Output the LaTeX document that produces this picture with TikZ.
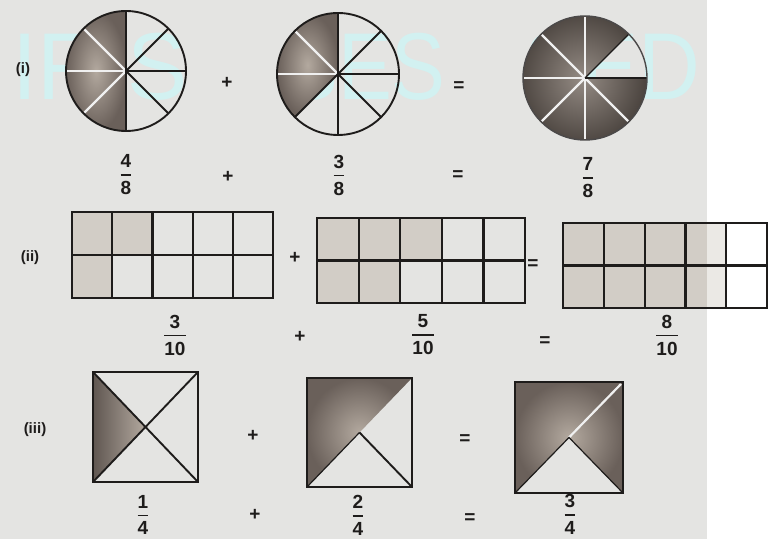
\documentclass[tikz,border=0pt]{standalone}
\usepackage{fontspec}
\usepackage{amsmath}
\setmainfont{Liberation Sans}
\definecolor{bgg}{HTML}{E4E4E2}
\definecolor{wmc}{HTML}{D2F1F1}
\definecolor{shin}{HTML}{B3A99F}
\definecolor{shout}{HTML}{6A605A}
\definecolor{dkin}{HTML}{948B84}
\definecolor{dkout}{HTML}{4A433E}
\definecolor{cellc}{HTML}{D2CDC6}
\definecolor{ink}{HTML}{1E1C1B}
\newcommand{\fr}[2]{$\genfrac{}{}{1.8pt}{0}{\textbf{#1}}{\textbf{#2}}$}
\begin{document}
\begin{tikzpicture}[x=1pt,y=1pt,
  wm/.style={font=\fontsize{95}{95}\selectfont, text=wmc, inner sep=0, anchor=base},
  fracnode/.style={font=\bfseries\fontsize{19}{19}\selectfont, inner sep=0, text=ink},
  opnode/.style={font=\bfseries\fontsize{19}{19}\selectfont, inner sep=0, text=ink},
  lblnode/.style={font=\bfseries\fontsize{15}{15}\selectfont, inner sep=0, text=ink},
  edgeline/.style={line width=1.9pt, draw=ink},
  wline/.style={line width=2.2pt, draw=white!88!gray},
  softshade/.style={inner color=shin, outer color=shout},
  darkshade/.style={inner color=dkin, outer color=dkout},
  cellfill/.style={fill=cellc},
  gridline/.style={line width=2.2pt, draw=ink, line join=miter}]
\useasboundingbox (0,0) rectangle (772,539);
\fill[bgg] (0,0) rectangle (707,539);
\fill[white] (707,0) rectangle (772,539);
% watermark
\node[wm] (wm1) at (100,439) {\scalebox{0.95}[1]{IRIS}};
\node[wm] (wm2) at (365,439) {\scalebox{0.85}[1]{SES}};
\node[wm] (wm3) at (612,439) {\scalebox{0.9}[1]{SED}};
% ---------- row (i)
\node[lblnode] (l1) at (23,469) {(i)};
\coordinate (c1) at (126,468);
\shade[softshade] (c1) -- ++(90:60) arc[start angle=90,end angle=270,radius=60] -- cycle;
\draw[wline] (c1) -- ++(135:59);
\draw[wline] (c1) -- ++(180:59);
\draw[wline] (c1) -- ++(225:59);
\foreach \a in {90,45,0,-45,-90} \draw[edgeline] (c1) -- ++(\a:60);
\draw[edgeline] (c1) circle[radius=60];
\coordinate (c2) at (338,465);
\shade[softshade] (c2) -- ++(90:61) arc[start angle=90,end angle=225,radius=61] -- cycle;
\draw[wline] (c2) -- ++(135:60);
\draw[wline] (c2) -- ++(180:60);
\foreach \a in {90,45,0,-45,-90,225} \draw[edgeline] (c2) -- ++(\a:61);
\draw[edgeline] (c2) circle[radius=61];
\coordinate (c3) at (585,461);
\shade[darkshade] (c3) -- ++(45:62) arc[start angle=45,end angle=360,radius=62] -- cycle;
\foreach \a in {90,135,180,225,270,315} \draw[wline] (c3) -- ++(\a:61);
\draw[line width=1.2pt, draw=ink] (c3) -- ++(0:62);
\draw[line width=1.2pt, draw=ink] (c3) -- ++(45:62);
\draw[line width=1.4pt, draw=ink!80] (c3) circle[radius=62];
\node[opnode] (p1) at (227,456) {+};
\node[opnode] (e1) at (459,452) {=};
\node[fracnode] (f11) at (126,364) {\fr{4}{8}};
\node[opnode] (p1b) at (228,362) {+};
\node[fracnode] (f12) at (339,364) {\fr{3}{8}};
\node[opnode] (e1b) at (458,363) {=};
\node[fracnode] (f13) at (588,361) {\fr{7}{8}};
% ---------- row (ii)
\node[lblnode] (l2) at (30,281) {(ii)};
\begin{scope}[shift={(72,241)}]
  \fill[cellfill] (0,43) rectangle (80.4,86);
  \fill[cellfill] (0,0) rectangle (40.2,43);
  \draw[gridline] (0,0) rectangle (201,86);
  \draw[gridline] (0,43) -- (201,43);
  \foreach \i in {1,2,3,4} \draw[gridline] (\i*40.2,0) -- (\i*40.2,86);
\end{scope}
\begin{scope}[shift={(317,236)}]
  \fill[cellfill] (0,42.5) rectangle (124.8,85);
  \fill[cellfill] (0,0) rectangle (83.2,42.5);
  \draw[gridline] (0,0) rectangle (208,85);
  \draw[gridline] (0,42.5) -- (208,42.5);
  \foreach \i in {1,2,3,4} \draw[gridline] (\i*41.6,0) -- (\i*41.6,85);
\end{scope}
\begin{scope}[shift={(563,231)}]
  \fill[cellfill] (0,0) rectangle (144,85);
  \fill[cellc!45!white] (144,0) rectangle (163.2,85);
  \draw[gridline] (0,0) rectangle (204,85);
  \draw[gridline] (0,42.5) -- (204,42.5);
  \foreach \i in {1,2,3,4} \draw[gridline] (\i*40.8,0) -- (\i*40.8,85);
\end{scope}
\node[opnode] (p2) at (295,281) {+};
\node[opnode] (e2) at (533,274) {=};
\node[fracnode] (f21) at (175,204) {\fr{3}{10}};
\node[opnode] (p2b) at (300,202) {+};
\node[fracnode] (f22) at (423,204) {\fr{5}{10}};
\node[opnode] (e2b) at (545,197) {=};
\node[fracnode] (f23) at (667,204) {\fr{8}{10}};
% ---------- row (iii)
\node[lblnode] (l3) at (35,109) {(iii)};
% square 1
\shade[left color=shout!90!black, right color=shin] (93,167) -- (145.5,112) -- (93,57) -- cycle;
\draw[edgeline] (93,57) rectangle (198,167);
\draw[edgeline] (93,167) -- (198,57);
\draw[edgeline] (93,57) -- (198,167);
% square 2
\shade[softshade] (307,161) -- (412,161) -- (359.5,106.5) -- (307,52) -- cycle;
\draw[edgeline] (307,52) rectangle (412,161);
\draw[edgeline] (359.5,106.5) -- (412,52);
\draw[line width=1.2pt, draw=ink] (307,52) -- (359.5,106.5);
% square 3
\shade[softshade] (515,157) -- (623,157) -- (623,46) -- (569,101.5) -- (515,46) -- cycle;
\draw[wline] (569,101.5) -- (621,155);
\draw[edgeline] (515,46) rectangle (623,157);
\draw[line width=1.2pt, draw=ink] (515,46) -- (569,101.5) -- (623,46);
\node[opnode] (p3) at (253,103) {+};
\node[opnode] (e3) at (465,99) {=};
\node[fracnode] (f31) at (143,24) {\fr{1}{4}};
\node[opnode] (p3b) at (255,24) {+};
\node[fracnode] (f32) at (358,24) {\fr{2}{4}};
\node[opnode] (e3b) at (470,20) {=};
\node[fracnode] (f33) at (570,25) {\fr{3}{4}};
\end{tikzpicture}
\end{document}
